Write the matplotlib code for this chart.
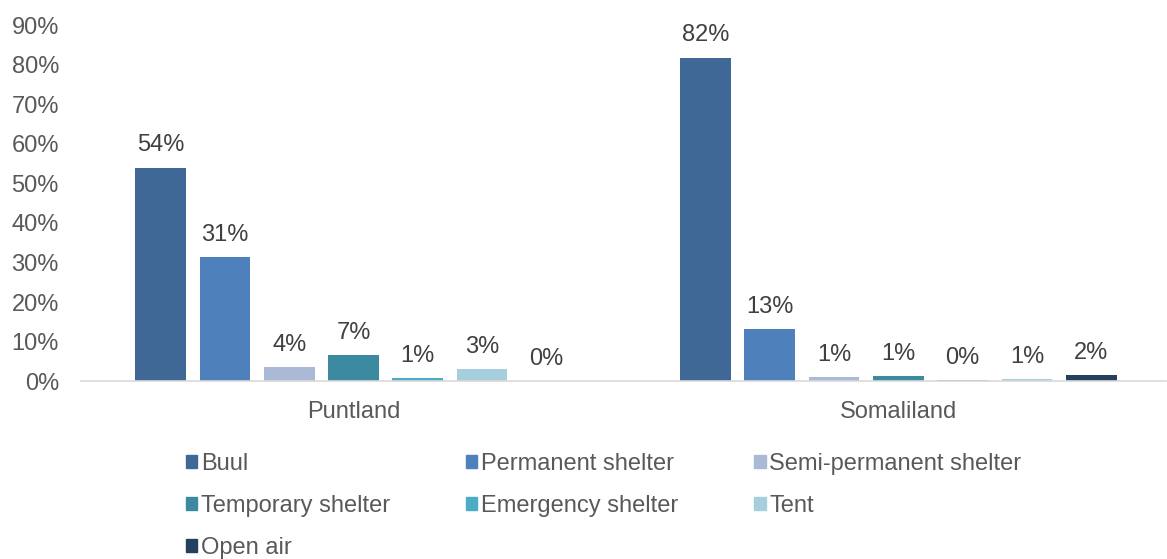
import matplotlib.pyplot as plt
from matplotlib.patches import Patch
import numpy as np

plt.rcParams['font.family'] = ['Liberation Sans', 'DejaVu Sans']

regions = ["Puntland", "Somaliland"]
shelter_types = ["Buul", "Permanent shelter", "Semi-permanent shelter",
                 "Temporary shelter", "Emergency shelter", "Tent", "Open air"]
puntland = [54.0, 31.3, 3.6, 6.6, 0.85, 3.1, 0.0]
somaliland = [81.8, 13.3, 1.0, 1.3, 0.3, 0.6, 1.5]
colors = ["#3F6897", "#4E80BC", "#A9B9D6", "#3B8A9F", "#4BACC6", "#A7CEDC", "#253F5E"]

text_col = "#595959"
fs = 17

fig = plt.figure(figsize=(11.67, 5.59), dpi=100)
ax = fig.add_axes([0.0695, 0.318, 0.93, 0.637])

x = np.arange(len(regions))
step = 0.118
width = 0.093
handles = []
for i, name in enumerate(shelter_types):
    vals = [puntland[i], somaliland[i]]
    pos = x + (i - 3) * step
    bars = ax.bar(pos, vals, width=width, color=colors[i], label=name)
    handles.append(Patch(color=colors[i], label=name))
    for b, v in zip(bars, vals):
        ax.annotate(f"{v:.0f}%", (b.get_x() + b.get_width() / 2, v),
                    xytext=(0, 8), textcoords="offset points",
                    ha="center", va="bottom", fontsize=fs, color="#404040")

ax.set_xlim(-0.5, 1.492)
ax.set_ylim(0, 90)
ax.set_yticks(range(0, 91, 10))
ax.set_yticklabels([f"{t}%" for t in range(0, 91, 10)])
ax.set_xticks(x)
ax.set_xticklabels(regions)
ax.tick_params(axis="both", length=0, labelsize=fs, labelcolor=text_col)
ax.tick_params(axis="x", pad=14)
ax.tick_params(axis="y", pad=16)
for s in ["top", "right", "left"]:
    ax.spines[s].set_visible(False)
ax.spines["bottom"].set_color("#D9D9D9")
ax.spines["bottom"].set_linewidth(1.2)

# row-major legend order for 3 columns
order = [0, 3, 6, 1, 4, 2, 5]
leg = fig.legend([handles[k] for k in order], [shelter_types[k] for k in order],
                 ncol=3, loc="upper left", bbox_to_anchor=(0.159, 0.190),
                 frameon=False, fontsize=fs, handlelength=0.5, handleheight=0.5,
                 handletextpad=0.15, columnspacing=3.2, labelspacing=0.85,
                 borderaxespad=0, borderpad=0)
for t in leg.get_texts():
    t.set_color(text_col)

fig.savefig("out.png", dpi=100)
